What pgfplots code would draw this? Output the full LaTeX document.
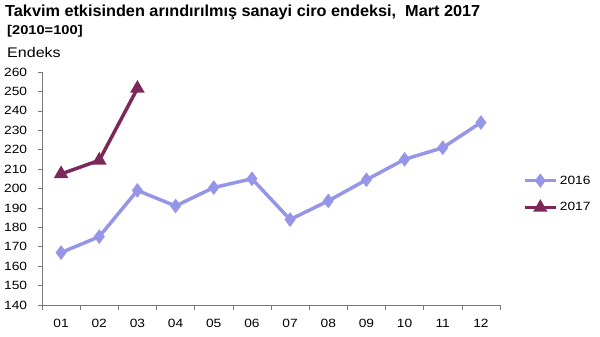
\documentclass[border=0pt]{standalone}
\usepackage{pgfplots}
\pgfplotsset{compat=1.18}
\usepackage{fontspec}
\setmainfont{Liberation Sans}
\definecolor{c16}{RGB}{150,150,232}
\definecolor{c17}{RGB}{125,40,90}
\definecolor{axgray}{RGB}{120,120,120}
\begin{document}
\begin{tikzpicture}
\path[use as bounding box] (-42bp,-32bp) rectangle (558bp,305bp);
\node[anchor=base west,inner sep=0pt,xscale=1.02,font=\fontsize{16}{18}\selectfont\bfseries] at (-37bp,288bp) {Takvim etkisinden arındırılmış sanayi ciro endeksi,\ \ Mart 2017};
\node[anchor=base west,inner sep=0pt,xscale=1.15,font=\fontsize{12.8}{14}\selectfont\bfseries] at (-35bp,270bp) {[2010=100]};
\node[anchor=base west,inner sep=0pt,xscale=1.15,font=\fontsize{14}{16}\selectfont] at (-35bp,247bp) {Endeks};
\begin{axis}[
  at={(0,0)}, anchor=south west,
  scale only axis, width=458bp, height=233bp,
  xmin=0.5, xmax=12.5, ymin=140, ymax=260,
  axis x line*=bottom, axis y line*=left,
  axis line style={axgray, line width=0.6pt, -},
  xtick={1,...,12},
  xticklabels={01,02,03,04,05,06,07,08,09,10,11,12},
  minor xtick={0.5,1.5,...,12.5},
  major x tick style={draw=none},
  minor tick length=5bp,
  ytick={140,150,...,260},
  major tick length=4bp,
  tick align=outside,
  tick style={axgray, line width=0.6pt},
  ticklabel style={font=\fontsize{12}{14}\selectfont, xscale=1.15},
  /pgf/number format/assume math mode=true,
  xticklabel style={yshift=-7bp},
  yticklabel style={xshift=-6bp},
  legend style={draw=none, fill=none, at={(1.05,0.476)}, anchor=west,
    font=\fontsize{12}{14}\selectfont, row sep=13bp, inner sep=0pt,
    nodes={xscale=1.15}},
  legend cell align=left,
  legend image post style={line width=3.3pt},
  legend image code/.code={\draw[mark repeat=2,mark phase=2] plot coordinates {(0cm,0cm) (0.55cm,0cm) (1.1cm,0cm)};},
  clip=false,
]
\addplot[c16, line width=3.5pt, mark=diamond*, mark size=4.5bp, mark options={solid}] coordinates {
(1,167) (2,175.2) (3,199) (4,191) (5,200.5) (6,205) (7,184) (8,193.6) (9,204.5) (10,215) (11,221) (12,234)
};
\addlegendentry{2016}
\addplot[c17, line width=3.5pt, mark=triangle*, mark size=5bp, mark options={solid}] coordinates {
(1,207.5) (2,214.5) (3,251.5)
};
\addlegendentry{2017}
\end{axis}
\end{tikzpicture}
\end{document}
